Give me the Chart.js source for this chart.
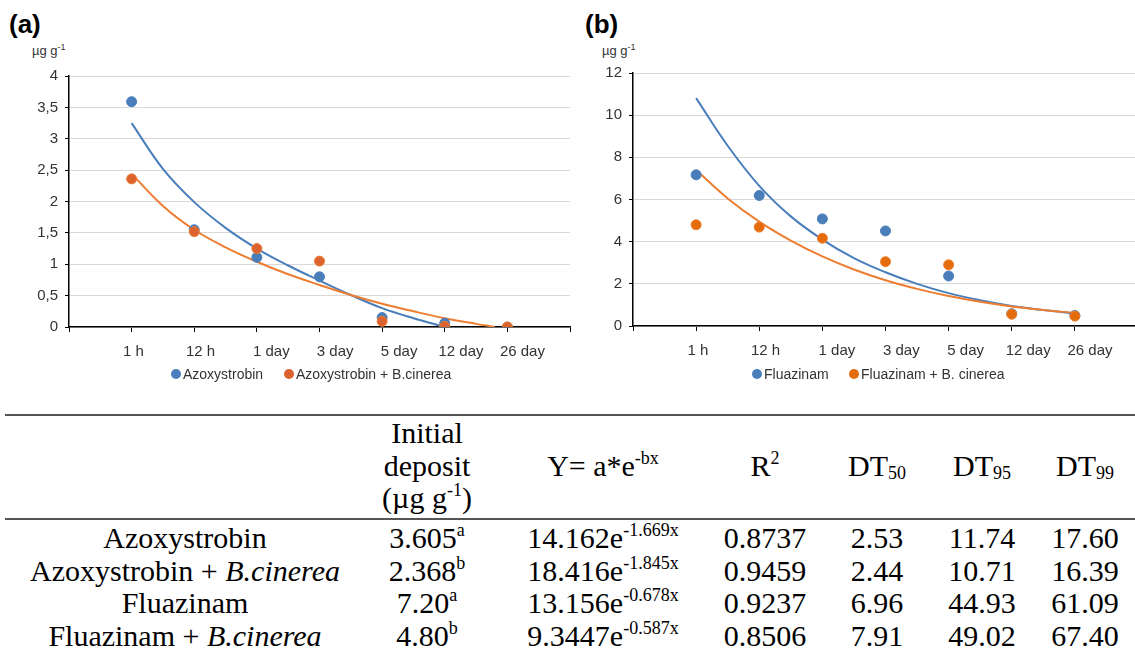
<!DOCTYPE html>
<html>
<head>
<meta charset="utf-8">
<script src="https://cdn.jsdelivr.net/npm/chart.js@4.4.1/dist/chart.umd.min.js"></script>
<style>
  body { margin: 0; width: 1135px; height: 653px; overflow: hidden; background: #fff; position: relative;
         font-family: "Liberation Sans", Arial, sans-serif; color: #333; }
  .abs { position: absolute; white-space: nowrap; }
  .panel { font-weight: bold; font-size: 26px; color: #000; }
  .unit { font-size: 13px; color: #333; }
  .unit sup { font-size: 9px; position: relative; top: -5px; vertical-align: baseline; }
  .leg { font-size: 14px; color: #333; line-height: 16px; }
  .dot { display: inline-block; width: 10px; height: 10px; border-radius: 50%; position: absolute; top: 3px; }
  .rule { position: absolute; left: 5px; width: 1130px; height: 2px; background: #555; }
  .cell { position: absolute; width: 360px; text-align: center; white-space: nowrap;
          font-family: "Liberation Serif", "Times New Roman", serif; font-size: 30px; line-height: 32.6px; color: #000; }
  .cell sup { font-size: 18px; position: relative; top: -12px; vertical-align: baseline; }
  .cell sub { font-size: 18px; position: relative; top: 3px; vertical-align: baseline; }
</style>
</head>
<body>
<div class="abs panel" style="left:9px; top:9px;">(a)</div>
<div class="abs panel" style="left:585px; top:9px;">(b)</div>
<div class="abs unit" style="left:32px; top:43px;">µg g<sup>-1</sup></div>
<div class="abs unit" style="left:602px; top:43px;">µg g<sup>-1</sup></div>

<canvas id="chartA" class="abs" style="left:0; top:0;" width="590" height="395"></canvas>
<canvas id="chartB" class="abs" style="left:570px; top:0;" width="600" height="395"></canvas>

<div class="abs leg" style="left:171px; top:366px;"><span class="dot" style="left:0; background:#4a7ebb;"></span><span style="margin-left:12px;">Azoxystrobin</span></div>
<div class="abs leg" style="left:284px; top:366px;"><span class="dot" style="left:0; background:#dc6230;"></span><span style="margin-left:12px;">Azoxystrobin + B.cinerea</span></div>
<div class="abs leg" style="left:752px; top:366px;"><span class="dot" style="left:0; background:#4a7ebb;"></span><span style="margin-left:12px;">Fluazinam</span></div>
<div class="abs leg" style="left:849px; top:366px;"><span class="dot" style="left:0; background:#e46c0a;"></span><span style="margin-left:12px;">Fluazinam + B. cinerea</span></div>

<div class="rule" style="top:414px;"></div>
<div class="rule" style="top:518px;"></div>
<div id="table"></div>

<script>
// sampling times (category axis)
const categories = ["1 h", "12 h", "1 day", "3 day", "5 day", "12 day", "26 day"];
const xTicks = [0, 1, 2, 3, 4, 5, 6, 7, 8];
// the figure's labels sit a little right of their tick marks
const labelNudge = [0.03, 0.1, 0.23, 0.25, 0.27, 0.26, 0.24];

// residues, µg g-1
const azoxy   = [3.59, 1.55, 1.11, 0.80, 0.15, 0.06, 0.00];
const azoxyBc = [2.36, 1.52, 1.25, 1.05, 0.09, 0.01, 0.00];
const fluaz   = [7.17, 6.19, 5.08, 4.51, 2.37, 0.58, 0.50];
const fluazBc = [4.80, 4.69, 4.16, 3.05, 2.90, 0.56, 0.47];

// trend curves (x in category positions)
const azoxyTrendX   = [1, 1.5, 2, 2.5, 3, 3.5, 4, 4.5, 5, 5.5, 6];
const azoxyTrend    = [3.25, 2.52, 1.99, 1.58, 1.25, 0.98, 0.74, 0.51, 0.30, 0.14, 0.00];
const azoxyBcTrendX = [1, 1.5, 2, 2.5, 3, 3.5, 4, 4.5, 5, 5.5, 6, 6.5, 6.8];
const azoxyBcTrend  = [2.44, 1.93, 1.55, 1.27, 1.04, 0.84, 0.67, 0.51, 0.37, 0.25, 0.14, 0.05, 0.00];
const fluazTrendX   = [1, 1.5, 2, 2.5, 3, 3.5, 4, 4.5, 5, 5.5, 6, 6.5, 7];
const fluazTrend    = [10.81, 8.55, 6.65, 5.20, 4.10, 3.22, 2.55, 2.00, 1.56, 1.22, 0.95, 0.76, 0.60];
const fluazBcTrendX = [1, 1.5, 2, 2.5, 3, 3.5, 4, 4.5, 5, 5.5, 6, 6.5, 7];
const fluazBcTrend  = [7.40, 6.05, 4.95, 4.05, 3.30, 2.68, 2.17, 1.76, 1.42, 1.15, 0.93, 0.76, 0.62];

const yTicksA = [0, 0.5, 1, 1.5, 2, 2.5, 3, 3.5, 4];
const yTicksB = [0, 2, 4, 6, 8, 10, 12];

const BLUE = "#4a7ebb";
const ORANGE_LINE = "#ed7d31";

const points = (vals, fill, border, order) => ({
    type: "scatter",
    data: vals.map((v, i) => ({ x: i + 1, y: v })),
    backgroundColor: fill,
    borderColor: border,
    borderWidth: 1,
    pointRadius: 5,
    order: order,
});

const trend = (xs, ys, color, order) => ({
    type: "line",
    data: xs.map((x, i) => ({ x: x, y: ys[i] })),
    borderColor: color,
    borderWidth: 2,
    pointRadius: 0,
    fill: false,
    tension: 0.4,
    order: order,
});

const makeChart = (id, datasets, yTicks, yFmt, box) => new Chart(document.getElementById(id), {
    type: "scatter",
    data: { datasets: datasets },
    options: {
        responsive: false,
        animation: false,
        layout: { padding: { top: box.top, right: box.right, left: 0, bottom: 0 } },
        plugins: { legend: { display: false }, tooltip: { enabled: false } },
        scales: {
            x: {
                type: "linear", min: 0, max: 8,
                afterBuildTicks: (s) => { s.ticks = xTicks.map((v) => ({ value: v })); },
                afterFit: (s) => { s.height = 6; },
                grid: { drawOnChartArea: false, tickColor: "#000", tickLength: 5 },
                border: { color: "#000", width: 1.5 },
                ticks: { display: false },
            },
            // labels only, same span as x
            xl: {
                type: "linear", position: "bottom", min: 0, max: 8,
                afterBuildTicks: (s) => { s.ticks = categories.map((c, i) => ({ value: i + 1 + labelNudge[i] })); },
                afterFit: (s) => { s.height = box.xh - 6; },
                grid: { display: false },
                border: { display: false },
                ticks: {
                    callback: (v, i) => categories[i],
                    font: { family: "Liberation Sans", size: 15 },
                    color: "#333", padding: 2, maxRotation: 0, autoSkip: false,
                },
            },
            y: {
                min: 0, max: yTicks[yTicks.length - 1],
                afterBuildTicks: (s) => { s.ticks = yTicks.map((v) => ({ value: v })); },
                afterFit: (s) => { s.width = box.yw; },
                grid: { color: "#d9d9d9", tickColor: "#000", tickLength: 4 },
                border: { color: "#000", width: 1.5 },
                ticks: {
                    callback: yFmt,
                    font: { family: "Liberation Sans", size: 15 },
                    color: "#333", padding: 7,
                },
            },
        },
    },
});

makeChart("chartA", [
    points(azoxyBc, "#dc6230", ORANGE_LINE, 0),
    points(azoxy, BLUE, BLUE, 1),
    trend(azoxyBcTrendX, azoxyBcTrend, ORANGE_LINE, 2),
    trend(azoxyTrendX, azoxyTrend, BLUE, 3),
], yTicksA, (v) => String(v).replace(".", ","), { top: 76, right: 20, xh: 68, yw: 69 });

makeChart("chartB", [
    points(fluazBc, "#e46c0a", ORANGE_LINE, 0),
    points(fluaz, BLUE, BLUE, 1),
    trend(fluazBcTrendX, fluazBcTrend, ORANGE_LINE, 2),
    trend(fluazTrendX, fluazTrend, BLUE, 3),
], yTicksB, (v) => String(v), { top: 73, right: 32, xh: 69, yw: 63 });

// table below the charts
const colX = [185, 427, 603, 765, 877, 982, 1085];
const headers = ["", "Initial<br>deposit<br>(µg g<sup>-1</sup>)", "Y= a*e<sup>-bx</sup>", "R<sup>2</sup>",
                 "DT<sub>50</sub>", "DT<sub>95</sub>", "DT<sub>99</sub>"];
const treatments = ["Azoxystrobin", "Azoxystrobin + <i>B.cinerea</i>", "Fluazinam", "Fluazinam + <i>B.cinerea</i>"];
const initDeposit = ["3.605", "2.368", "7.20", "4.80"];
const initLetter = ["a", "b", "a", "b"];
const coefA = ["14.162", "18.416", "13.156", "9.3447"];
const coefB = ["-1.669x", "-1.845x", "-0.678x", "-0.587x"];
const rSquared = ["0.8737", "0.9459", "0.9237", "0.8506"];
const dt50 = ["2.53", "2.44", "6.96", "7.91"];
const dt95 = ["11.74", "10.71", "44.93", "49.02"];
const dt99 = ["17.60", "16.39", "61.09", "67.40"];

const table = document.getElementById("table");
const addCell = (col, top, html) => {
    const d = document.createElement("div");
    d.className = "cell";
    d.style.left = (colX[col] - 180) + "px";
    d.style.top = top + "px";
    d.innerHTML = html;
    table.appendChild(d);
};

headers.forEach((h, c) => addCell(c, c === 1 ? 417 : 450, h));
const rowTop = [522, 555, 587, 620];
treatments.forEach((t, r) => {
    const row = [t, initDeposit[r] + "<sup>" + initLetter[r] + "</sup>",
                 coefA[r] + "e<sup>" + coefB[r] + "</sup>", rSquared[r], dt50[r], dt95[r], dt99[r]];
    row.forEach((html, c) => addCell(c, rowTop[r], html));
});
</script>
</body>
</html>
